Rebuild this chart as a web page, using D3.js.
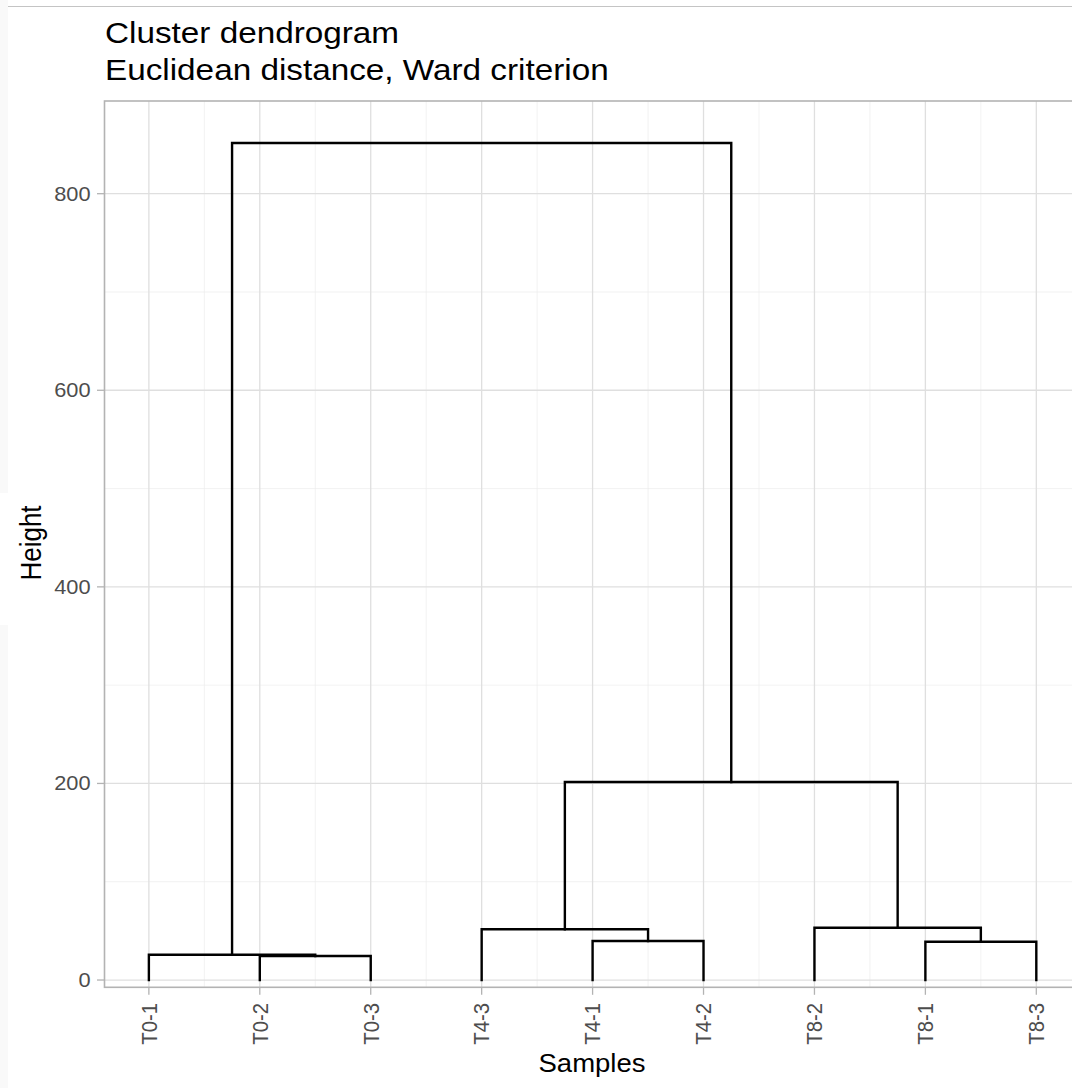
<!DOCTYPE html>
<html>
<head>
<meta charset="utf-8">
<script src="https://cdn.jsdelivr.net/npm/d3@7"></script>
<style>
  html, body { margin: 0; padding: 0; background: #fff; }
  svg { display: block; font-family: "Liberation Sans", Arial, Helvetica, sans-serif; }
</style>
</head>
<body>
<script>
// ---- data ----
const leafLabels = ["T0-1","T0-2","T0-3","T4-3","T4-1","T4-2","T8-2","T8-1","T8-3"];
// hclust-style merge matrix: negative = leaf (1-based, in plotted order), positive = earlier merge row (1-based)
const mergeA = [-2, -1, -5, -4, -8, -7, 4, 2];
const mergeB = [-3,  1, -6,  3, -9,  5, 6, 7];
const mergeHeights = [24.4, 25.7, 39.7, 51.6, 39.0, 53.2, 201.4, 851.6];
const yTicks = [0, 200, 400, 600, 800];
const yMinor = [100, 300, 500, 700];
const titleText = "Cluster dendrogram";
const subtitleText = "Euclidean distance, Ward criterion";
const xTitle = "Samples";
const yTitle = "Height";

// ---- layout ----
const W = 1072, H = 1088;
const SX = 1.1; // horizontal stretch of the reference text
const svg = d3.select("body").append("svg").attr("width", W).attr("height", H);

// page decorations
svg.append("rect").attr("x", 0).attr("y", 0).attr("width", 8).attr("height", 493).attr("fill", "#f9f9f9");
svg.append("rect").attr("x", 0).attr("y", 625).attr("width", 8).attr("height", H - 625).attr("fill", "#f9f9f9");
svg.append("line").attr("x1", 8).attr("x2", W).attr("y1", 6.5).attr("y2", 6.5).attr("stroke", "#c4c4c4").attr("stroke-width", 1.2);

const n = leafLabels.length;
const x = d3.scaleLinear().domain([0.6, n + 0.4]).range([104.5, 104.5 + 8.8 * 110.93]);
const y = d3.scaleLinear().domain([-7.4, 894.3]).range([987.3, 101]);

const px0 = x.range()[0], px1 = x.range()[1], py0 = y.range()[1], py1 = y.range()[0];

const g = svg.append("g");

// minor grid
g.selectAll(".ymin").data(yMinor).join("line")
  .attr("x1", px0).attr("x2", px1).attr("y1", d => y(d)).attr("y2", d => y(d))
  .attr("stroke", "#ececec").attr("stroke-width", 0.7);
const xMinor = d3.range(1.5, n, 1);
g.selectAll(".xmin").data(xMinor).join("line")
  .attr("y1", py0).attr("y2", py1).attr("x1", d => x(d)).attr("x2", d => x(d))
  .attr("stroke", "#ececec").attr("stroke-width", 0.7);
// major grid
g.selectAll(".ymaj").data(yTicks).join("line")
  .attr("x1", px0).attr("x2", px1).attr("y1", d => y(d)).attr("y2", d => y(d))
  .attr("stroke", "#dfdfdf").attr("stroke-width", 1.3);
g.selectAll(".xmaj").data(d3.range(1, n + 1)).join("line")
  .attr("y1", py0).attr("y2", py1).attr("x1", d => x(d)).attr("x2", d => x(d))
  .attr("stroke", "#dfdfdf").attr("stroke-width", 1.3);

// ---- dendrogram ----
const nodeX = [], nodeH = [];
function cx(id) { return id < 0 ? -id : nodeX[id - 1]; }
function ch(id) { return id < 0 ? 0 : nodeH[id - 1]; }
const paths = [];
mergeHeights.forEach((h, i) => {
  const a = mergeA[i], b = mergeB[i];
  const xa = cx(a), xb = cx(b);
  paths.push([[xa, ch(a)], [xa, h], [xb, h], [xb, ch(b)]]);
  nodeX.push((xa + xb) / 2);
  nodeH.push(h);
});
const line = d3.line().x(d => x(d[0])).y(d => y(d[1]));
g.selectAll(".seg").data(paths).join("path")
  .attr("d", line).attr("fill", "none").attr("stroke", "#000")
  .attr("stroke-width", 2.4).attr("stroke-linejoin", "miter").attr("stroke-linecap", "square");

// panel border
svg.append("rect").attr("x", px0).attr("y", py0).attr("width", px1 - px0).attr("height", py1 - py0)
  .attr("fill", "none").attr("stroke", "#b3b3b3").attr("stroke-width", 1.6);

// ---- axes ----
const tickCol = "#b3b3b3", labCol = "#4d4d4d";
svg.selectAll(".yt").data(yTicks).join("line")
  .attr("x1", px0 - 7.5).attr("x2", px0).attr("y1", d => y(d)).attr("y2", d => y(d))
  .attr("stroke", tickCol).attr("stroke-width", 1.3);
svg.selectAll(".ytl").data(yTicks).join("text")
  .attr("transform", d => `translate(90.5,${y(d)}) scale(${SX},1)`)
  .attr("dy", "0.35em").attr("text-anchor", "end")
  .attr("font-size", 19.8).attr("fill", labCol).text(d => d);

svg.selectAll(".xt").data(d3.range(1, n + 1)).join("line")
  .attr("y1", py1).attr("y2", py1 + 7.5).attr("x1", d => x(d)).attr("x2", d => x(d))
  .attr("stroke", tickCol).attr("stroke-width", 1.3);
svg.selectAll(".xtl").data(leafLabels).join("text")
  .attr("transform", (d, i) => `translate(${x(i + 1)},1003) scale(${SX},1) rotate(-90)`)
  .attr("dy", "0.35em").attr("text-anchor", "end")
  .attr("font-size", 20.3).attr("fill", labCol).text(d => d);

// titles
svg.append("text").attr("transform", `translate(105,43.3) scale(1.14,1)`)
  .attr("font-size", 29.2).attr("fill", "#000").text(titleText);
svg.append("text").attr("transform", `translate(105,80) scale(1.14,1)`)
  .attr("font-size", 29.2).attr("fill", "#000").text(subtitleText);
svg.append("text").attr("transform", `translate(592,1071.7) scale(${SX},1)`)
  .attr("text-anchor", "middle").attr("font-size", 25).attr("fill", "#000").text(xTitle);
svg.append("text").attr("transform", `translate(41,543) scale(${SX},1) rotate(-90)`)
  .attr("text-anchor", "middle").attr("font-size", 26).attr("fill", "#000").text(yTitle);
</script>
</body>
</html>
